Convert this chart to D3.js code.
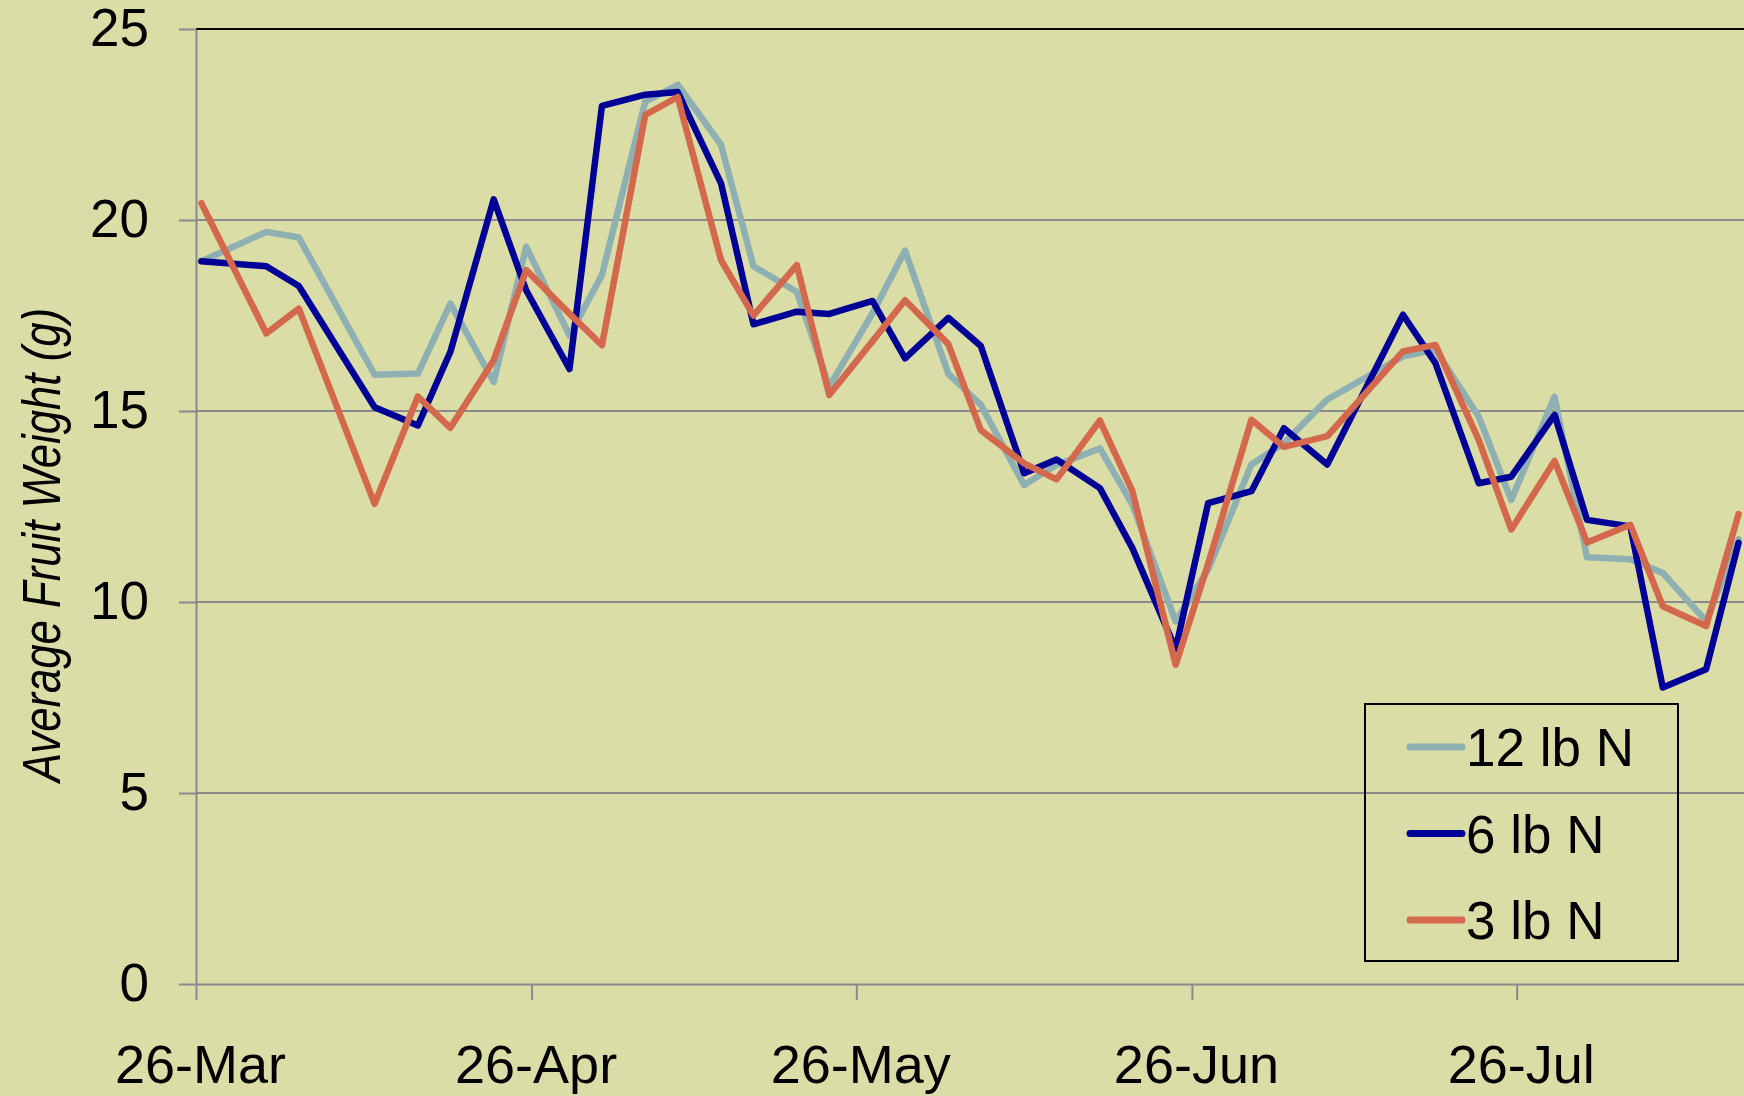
<!DOCTYPE html>
<html>
<head>
<meta charset="utf-8">
<script src="https://cdn.jsdelivr.net/npm/d3@7"></script>
<style>
  body { margin: 0; background: #dbdda7; }
  svg { display: block; }
  text { font-family: "Liberation Sans", Arial, sans-serif; fill: #000; }
</style>
</head>
<body>
<svg id="chart" width="1744" height="1096"></svg>
<script>
// harvest dates (twice weekly picks)
var dates = ["2012-03-26","2012-04-01","2012-04-04","2012-04-11","2012-04-15","2012-04-18","2012-04-22","2012-04-25",
  "2012-04-29","2012-05-02","2012-05-06","2012-05-09","2012-05-13","2012-05-16","2012-05-20","2012-05-23",
  "2012-05-27","2012-05-30","2012-06-03","2012-06-06","2012-06-10","2012-06-13","2012-06-17","2012-06-20",
  "2012-06-24","2012-06-27","2012-07-01","2012-07-04","2012-07-08","2012-07-15","2012-07-18","2012-07-22",
  "2012-07-25","2012-07-29","2012-08-01","2012-08-05","2012-08-08","2012-08-12","2012-08-15"];

// average fruit weight (g) per N rate
var n12 = [18.92,19.69,19.54,15.95,15.98,17.81,15.76,19.3,16.98,18.56,23.1,23.54,21.97,18.79,18.12,15.64,
  17.56,19.2,15.97,15.16,13.06,13.59,14.02,12.55,9.49,10.85,13.6,14.16,15.3,16.43,16.6,14.85,12.67,15.37,
  11.17,11.12,10.76,9.5,11.64];
var n6 = [18.92,18.79,18.27,15.1,14.62,16.55,20.54,18.16,16.1,22.99,23.28,23.35,20.96,17.27,17.6,17.54,
  17.88,16.38,17.44,16.7,13.37,13.73,12.98,11.41,8.77,12.59,12.9,14.55,13.6,17.52,16.25,13.11,13.28,14.9,
  12.15,11.98,7.76,8.24,11.55];
var n3 = [20.44,17.03,17.68,12.57,15.38,14.56,16.33,18.69,17.55,16.72,22.75,23.22,18.95,17.5,18.82,15.42,
  16.83,17.9,16.75,14.5,13.63,13.21,14.75,12.9,8.36,11.0,14.77,14.06,14.34,16.56,16.73,14.24,11.9,13.69,
  11.56,12.02,9.89,9.37,12.3];

var seriesNames = ["12 lb N", "6 lb N", "3 lb N"];
var seriesColors = ["#8fb0b2", "#000096", "#d4684c"];
var yTicks = [0, 5, 10, 15, 20, 25];
var xTicks = ["2012-03-26","2012-04-26","2012-05-26","2012-06-26","2012-07-26"];

var parse = d3.timeParse("%Y-%m-%d");
var svg = d3.select("#chart");

// plot box (window.top is read-only, so use other names)
var plotLeft = 196, plotTop = 29, plotBottom = 984, plotRight = 1744;

svg.append("rect").attr("width", 1744).attr("height", 1096).attr("fill", "#dbdda7");

var start = parse("2012-03-26");
var x = d3.scaleTime()
  .domain([start, d3.timeDay.offset(start, 143)])
  .range([plotLeft, plotRight]);
var y = d3.scaleLinear().domain([0, 25]).range([plotBottom, plotTop]);

// gridlines
svg.append("g")
  .selectAll("line")
  .data(yTicks.filter(function(d){ return d > 0 && d < 25 }))
  .enter()
  .append("line")
    .attr("x1", plotLeft).attr("x2", plotRight)
    .attr("y1", function(d){ return y(d) }).attr("y2", function(d){ return y(d) })
    .attr("stroke", "#8a8a8a").attr("stroke-width", 2);

// plot area top border
svg.append("line")
  .attr("x1", plotLeft).attr("x2", plotRight + 10)
  .attr("y1", y(25)).attr("y2", y(25))
  .attr("stroke", "#000").attr("stroke-width", 2);

// y axis
var yAxis = svg.append("g")
  .attr("transform", "translate(" + plotLeft + ",0)")
  .call(d3.axisLeft(y).tickValues(yTicks).tickSize(17).tickPadding(30).tickSizeOuter(0));
yAxis.select(".domain").attr("stroke", "#8a8a8a").attr("stroke-width", 2);
yAxis.selectAll(".tick line").attr("stroke", "#8a8a8a").attr("stroke-width", 2);
yAxis.selectAll("text").style("font-size", "53px").style("font-family", "Liberation Sans, Arial, sans-serif").attr("fill", "#000");

// x axis
var xAxis = svg.append("g")
  .attr("transform", "translate(0," + plotBottom + ")")
  .call(d3.axisBottom(x)
    .tickValues(xTicks.map(parse))
    .tickFormat(d3.timeFormat("%-d-%b"))
    .tickSize(16).tickPadding(45).tickSizeOuter(0));
xAxis.select(".domain").attr("stroke", "#8a8a8a").attr("stroke-width", 2);
xAxis.selectAll(".tick line").attr("stroke", "#8a8a8a").attr("stroke-width", 2);
xAxis.selectAll("text")
  .attr("dx", 4)
  .style("font-size", "54px").style("font-family", "Liberation Sans, Arial, sans-serif").attr("fill", "#000");

// y axis title (narrow italic, squeezed to the reference length)
svg.append("text")
  .attr("transform", "translate(60,545) rotate(-90)")
  .attr("text-anchor", "middle")
  .attr("textLength", 474)
  .attr("lengthAdjust", "spacingAndGlyphs")
  .style("font-family", "'Liberation Sans Narrow', 'Arial Narrow', 'Liberation Sans', sans-serif")
  .style("font-style", "italic")
  .style("font-size", "53px")
  .text("Average Fruit Weight (g)");

// lines, drawn 12 -> 6 -> 3 so that later series sit on top
var series = [n12, n6, n3];
var line = d3.line()
  .x(function(d){ return x(d3.timeHour.offset(d.date, 12)) })   // points sit mid-day like Excel
  .y(function(d){ return y(d.value) });

series.forEach(function(vals, i) {
  var pts = vals.map(function(v, j){ return { date: parse(dates[j]), value: v } });
  svg.append("path")
    .datum(pts)
    .attr("d", line)
    .attr("fill", "none")
    .attr("stroke", seriesColors[i])
    .attr("stroke-width", 6.5)
    .attr("stroke-linejoin", "round")
    .attr("stroke-linecap", "round");
});

// legend
var lg = svg.append("g").attr("transform", "translate(1365,704)");
lg.append("rect")
  .attr("width", 313).attr("height", 257)
  .attr("fill", "none").attr("stroke", "#000").attr("stroke-width", 2);

var rows = lg.selectAll("g.row")
  .data(seriesNames)
  .enter()
  .append("g")
    .attr("class", "row")
    .attr("transform", function(d, i){ return "translate(0," + (43 + i * 86.5) + ")" });

rows.append("line")
  .attr("x1", 45).attr("x2", 97)
  .attr("stroke", function(d, i){ return seriesColors[i] })
  .attr("stroke-width", 7)
  .attr("stroke-linecap", "round");

rows.append("text")
  .attr("x", 101)
  .attr("dy", "0.36em")
  .style("font-size", "53px")
  .text(function(d){ return d });
</script>
</body>
</html>
